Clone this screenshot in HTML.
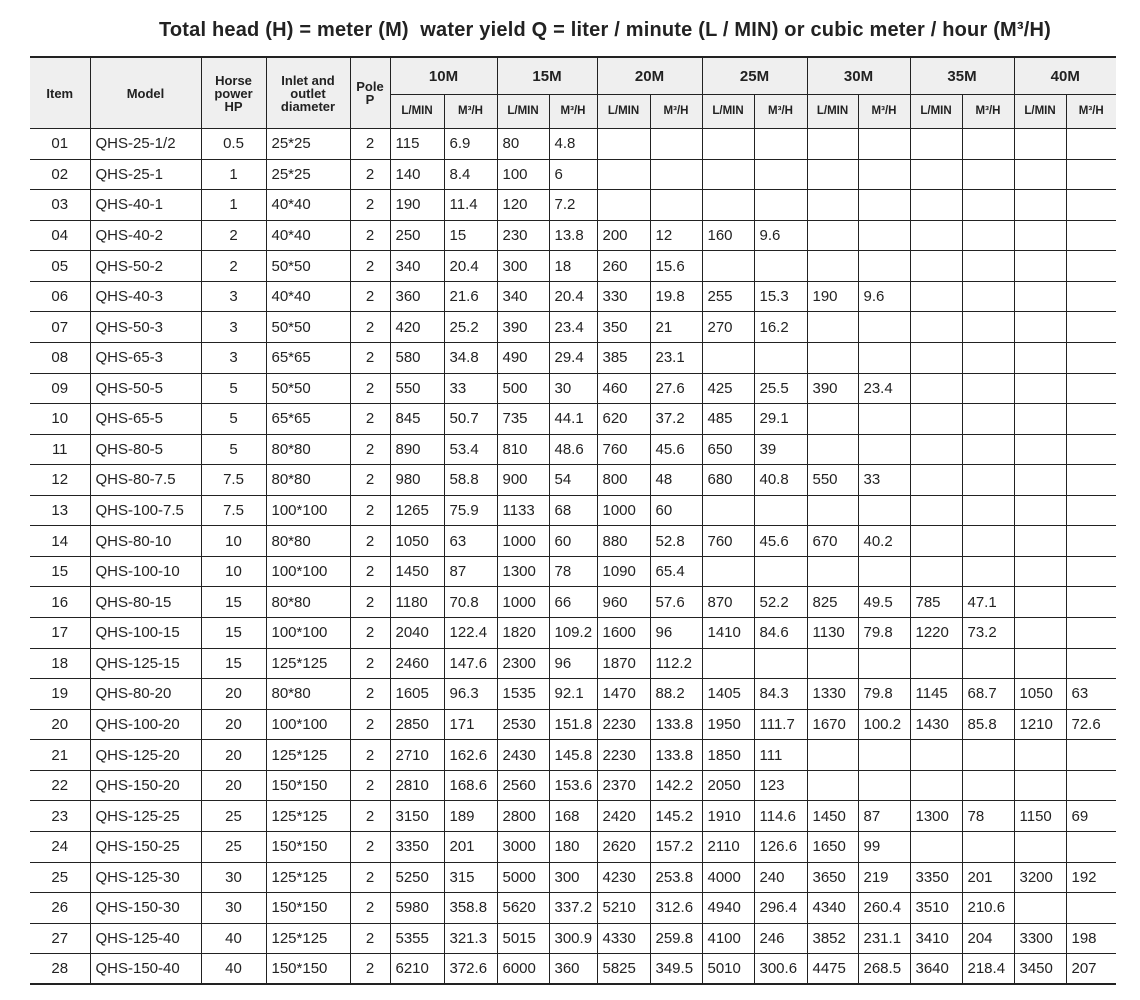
<!DOCTYPE html>
<html><head><meta charset="utf-8"><style>
body{margin:0;background:#fff;width:1140px;height:1000px;position:relative;font-family:"Liberation Sans",sans-serif;overflow:hidden}
.t{position:absolute;left:0;top:19px;width:1140px;text-align:center;font-weight:bold;font-size:20px;color:#222;letter-spacing:0.2px;padding-left:70px;box-sizing:border-box}
table{position:absolute;left:30px;top:56px;border-collapse:collapse;table-layout:fixed;color:#222}
td,th{border:1.5px solid #222;padding:0 0 0 5px;font-size:15px;white-space:nowrap;overflow:hidden;font-weight:normal;text-align:left}
th{background:#efefef;font-weight:bold;text-align:center;padding:0;font-size:13px;line-height:13px}
tr.h1 th{height:36px}tr.h1 th.m{font-size:15px}
tr.h2 th{height:33px;font-size:11.5px}
tr.d{height:30.57px}
tr.d td{height:29px}
td.c{text-align:center;padding:0}
tr:first-child th{border-top:2px solid #222}
tr:last-child td{border-bottom:2px solid #222}
td:first-child,th:first-child{border-left:none}
td:last-child,th.r{border-right:none}
</style></head><body>
<div class="t">Total head (H) = meter (M)&nbsp; water yield Q = liter / minute (L / MIN) or cubic meter / hour (M³/H)</div>
<table>
<colgroup><col style="width:60px"><col style="width:111px"><col style="width:65px"><col style="width:84px"><col style="width:40px"><col style="width:54px"><col style="width:53px"><col style="width:52px"><col style="width:48px"><col style="width:53px"><col style="width:52px"><col style="width:52px"><col style="width:53px"><col style="width:51px"><col style="width:52px"><col style="width:52px"><col style="width:52px"><col style="width:52px"><col style="width:50px"></colgroup>
<tr class="h1"><th rowspan="2">Item</th><th rowspan="2">Model</th><th rowspan="2">Horse<br>power<br>HP</th><th rowspan="2">Inlet and<br>outlet<br>diameter</th><th rowspan="2">Pole<br>P</th><th colspan="2" class="m">10M</th><th colspan="2" class="m">15M</th><th colspan="2" class="m">20M</th><th colspan="2" class="m">25M</th><th colspan="2" class="m">30M</th><th colspan="2" class="m">35M</th><th colspan="2" class="m r">40M</th></tr>
<tr class="h2"><th>L/MIN</th><th>M³/H</th><th>L/MIN</th><th>M³/H</th><th>L/MIN</th><th>M³/H</th><th>L/MIN</th><th>M³/H</th><th>L/MIN</th><th>M³/H</th><th>L/MIN</th><th>M³/H</th><th>L/MIN</th><th class="r">M³/H</th></tr>
<tr class="d"><td class="c">01</td><td>QHS-25-1/2</td><td class="c">0.5</td><td>25*25</td><td class="c">2</td><td>115</td><td>6.9</td><td>80</td><td>4.8</td><td></td><td></td><td></td><td></td><td></td><td></td><td></td><td></td><td></td><td></td></tr>
<tr class="d"><td class="c">02</td><td>QHS-25-1</td><td class="c">1</td><td>25*25</td><td class="c">2</td><td>140</td><td>8.4</td><td>100</td><td>6</td><td></td><td></td><td></td><td></td><td></td><td></td><td></td><td></td><td></td><td></td></tr>
<tr class="d"><td class="c">03</td><td>QHS-40-1</td><td class="c">1</td><td>40*40</td><td class="c">2</td><td>190</td><td>11.4</td><td>120</td><td>7.2</td><td></td><td></td><td></td><td></td><td></td><td></td><td></td><td></td><td></td><td></td></tr>
<tr class="d"><td class="c">04</td><td>QHS-40-2</td><td class="c">2</td><td>40*40</td><td class="c">2</td><td>250</td><td>15</td><td>230</td><td>13.8</td><td>200</td><td>12</td><td>160</td><td>9.6</td><td></td><td></td><td></td><td></td><td></td><td></td></tr>
<tr class="d"><td class="c">05</td><td>QHS-50-2</td><td class="c">2</td><td>50*50</td><td class="c">2</td><td>340</td><td>20.4</td><td>300</td><td>18</td><td>260</td><td>15.6</td><td></td><td></td><td></td><td></td><td></td><td></td><td></td><td></td></tr>
<tr class="d"><td class="c">06</td><td>QHS-40-3</td><td class="c">3</td><td>40*40</td><td class="c">2</td><td>360</td><td>21.6</td><td>340</td><td>20.4</td><td>330</td><td>19.8</td><td>255</td><td>15.3</td><td>190</td><td>9.6</td><td></td><td></td><td></td><td></td></tr>
<tr class="d"><td class="c">07</td><td>QHS-50-3</td><td class="c">3</td><td>50*50</td><td class="c">2</td><td>420</td><td>25.2</td><td>390</td><td>23.4</td><td>350</td><td>21</td><td>270</td><td>16.2</td><td></td><td></td><td></td><td></td><td></td><td></td></tr>
<tr class="d"><td class="c">08</td><td>QHS-65-3</td><td class="c">3</td><td>65*65</td><td class="c">2</td><td>580</td><td>34.8</td><td>490</td><td>29.4</td><td>385</td><td>23.1</td><td></td><td></td><td></td><td></td><td></td><td></td><td></td><td></td></tr>
<tr class="d"><td class="c">09</td><td>QHS-50-5</td><td class="c">5</td><td>50*50</td><td class="c">2</td><td>550</td><td>33</td><td>500</td><td>30</td><td>460</td><td>27.6</td><td>425</td><td>25.5</td><td>390</td><td>23.4</td><td></td><td></td><td></td><td></td></tr>
<tr class="d"><td class="c">10</td><td>QHS-65-5</td><td class="c">5</td><td>65*65</td><td class="c">2</td><td>845</td><td>50.7</td><td>735</td><td>44.1</td><td>620</td><td>37.2</td><td>485</td><td>29.1</td><td></td><td></td><td></td><td></td><td></td><td></td></tr>
<tr class="d"><td class="c">11</td><td>QHS-80-5</td><td class="c">5</td><td>80*80</td><td class="c">2</td><td>890</td><td>53.4</td><td>810</td><td>48.6</td><td>760</td><td>45.6</td><td>650</td><td>39</td><td></td><td></td><td></td><td></td><td></td><td></td></tr>
<tr class="d"><td class="c">12</td><td>QHS-80-7.5</td><td class="c">7.5</td><td>80*80</td><td class="c">2</td><td>980</td><td>58.8</td><td>900</td><td>54</td><td>800</td><td>48</td><td>680</td><td>40.8</td><td>550</td><td>33</td><td></td><td></td><td></td><td></td></tr>
<tr class="d"><td class="c">13</td><td>QHS-100-7.5</td><td class="c">7.5</td><td>100*100</td><td class="c">2</td><td>1265</td><td>75.9</td><td>1133</td><td>68</td><td>1000</td><td>60</td><td></td><td></td><td></td><td></td><td></td><td></td><td></td><td></td></tr>
<tr class="d"><td class="c">14</td><td>QHS-80-10</td><td class="c">10</td><td>80*80</td><td class="c">2</td><td>1050</td><td>63</td><td>1000</td><td>60</td><td>880</td><td>52.8</td><td>760</td><td>45.6</td><td>670</td><td>40.2</td><td></td><td></td><td></td><td></td></tr>
<tr class="d"><td class="c">15</td><td>QHS-100-10</td><td class="c">10</td><td>100*100</td><td class="c">2</td><td>1450</td><td>87</td><td>1300</td><td>78</td><td>1090</td><td>65.4</td><td></td><td></td><td></td><td></td><td></td><td></td><td></td><td></td></tr>
<tr class="d"><td class="c">16</td><td>QHS-80-15</td><td class="c">15</td><td>80*80</td><td class="c">2</td><td>1180</td><td>70.8</td><td>1000</td><td>66</td><td>960</td><td>57.6</td><td>870</td><td>52.2</td><td>825</td><td>49.5</td><td>785</td><td>47.1</td><td></td><td></td></tr>
<tr class="d"><td class="c">17</td><td>QHS-100-15</td><td class="c">15</td><td>100*100</td><td class="c">2</td><td>2040</td><td>122.4</td><td>1820</td><td>109.2</td><td>1600</td><td>96</td><td>1410</td><td>84.6</td><td>1130</td><td>79.8</td><td>1220</td><td>73.2</td><td></td><td></td></tr>
<tr class="d"><td class="c">18</td><td>QHS-125-15</td><td class="c">15</td><td>125*125</td><td class="c">2</td><td>2460</td><td>147.6</td><td>2300</td><td>96</td><td>1870</td><td>112.2</td><td></td><td></td><td></td><td></td><td></td><td></td><td></td><td></td></tr>
<tr class="d"><td class="c">19</td><td>QHS-80-20</td><td class="c">20</td><td>80*80</td><td class="c">2</td><td>1605</td><td>96.3</td><td>1535</td><td>92.1</td><td>1470</td><td>88.2</td><td>1405</td><td>84.3</td><td>1330</td><td>79.8</td><td>1145</td><td>68.7</td><td>1050</td><td>63</td></tr>
<tr class="d"><td class="c">20</td><td>QHS-100-20</td><td class="c">20</td><td>100*100</td><td class="c">2</td><td>2850</td><td>171</td><td>2530</td><td>151.8</td><td>2230</td><td>133.8</td><td>1950</td><td>111.7</td><td>1670</td><td>100.2</td><td>1430</td><td>85.8</td><td>1210</td><td>72.6</td></tr>
<tr class="d"><td class="c">21</td><td>QHS-125-20</td><td class="c">20</td><td>125*125</td><td class="c">2</td><td>2710</td><td>162.6</td><td>2430</td><td>145.8</td><td>2230</td><td>133.8</td><td>1850</td><td>111</td><td></td><td></td><td></td><td></td><td></td><td></td></tr>
<tr class="d"><td class="c">22</td><td>QHS-150-20</td><td class="c">20</td><td>150*150</td><td class="c">2</td><td>2810</td><td>168.6</td><td>2560</td><td>153.6</td><td>2370</td><td>142.2</td><td>2050</td><td>123</td><td></td><td></td><td></td><td></td><td></td><td></td></tr>
<tr class="d"><td class="c">23</td><td>QHS-125-25</td><td class="c">25</td><td>125*125</td><td class="c">2</td><td>3150</td><td>189</td><td>2800</td><td>168</td><td>2420</td><td>145.2</td><td>1910</td><td>114.6</td><td>1450</td><td>87</td><td>1300</td><td>78</td><td>1150</td><td>69</td></tr>
<tr class="d"><td class="c">24</td><td>QHS-150-25</td><td class="c">25</td><td>150*150</td><td class="c">2</td><td>3350</td><td>201</td><td>3000</td><td>180</td><td>2620</td><td>157.2</td><td>2110</td><td>126.6</td><td>1650</td><td>99</td><td></td><td></td><td></td><td></td></tr>
<tr class="d"><td class="c">25</td><td>QHS-125-30</td><td class="c">30</td><td>125*125</td><td class="c">2</td><td>5250</td><td>315</td><td>5000</td><td>300</td><td>4230</td><td>253.8</td><td>4000</td><td>240</td><td>3650</td><td>219</td><td>3350</td><td>201</td><td>3200</td><td>192</td></tr>
<tr class="d"><td class="c">26</td><td>QHS-150-30</td><td class="c">30</td><td>150*150</td><td class="c">2</td><td>5980</td><td>358.8</td><td>5620</td><td>337.2</td><td>5210</td><td>312.6</td><td>4940</td><td>296.4</td><td>4340</td><td>260.4</td><td>3510</td><td>210.6</td><td></td><td></td></tr>
<tr class="d"><td class="c">27</td><td>QHS-125-40</td><td class="c">40</td><td>125*125</td><td class="c">2</td><td>5355</td><td>321.3</td><td>5015</td><td>300.9</td><td>4330</td><td>259.8</td><td>4100</td><td>246</td><td>3852</td><td>231.1</td><td>3410</td><td>204</td><td>3300</td><td>198</td></tr>
<tr class="d"><td class="c">28</td><td>QHS-150-40</td><td class="c">40</td><td>150*150</td><td class="c">2</td><td>6210</td><td>372.6</td><td>6000</td><td>360</td><td>5825</td><td>349.5</td><td>5010</td><td>300.6</td><td>4475</td><td>268.5</td><td>3640</td><td>218.4</td><td>3450</td><td>207</td></tr>
</table>
</body></html>
